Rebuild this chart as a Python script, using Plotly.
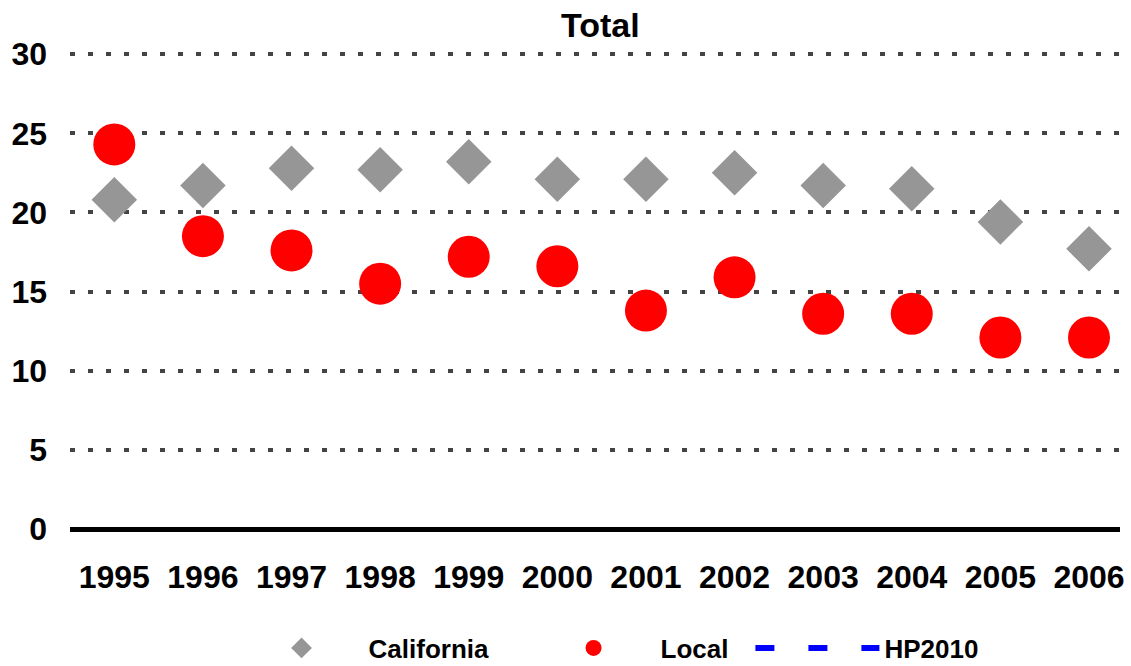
import plotly.graph_objects as go

years = ["1995", "1996", "1997", "1998", "1999", "2000", "2001", "2002", "2003", "2004", "2005", "2006"]
california = [20.8, 21.7, 22.8, 22.7, 23.2, 22.1, 22.1, 22.5, 21.7, 21.5, 19.4, 17.7]
local = [24.3, 18.5, 17.6, 15.5, 17.2, 16.6, 13.8, 15.9, 13.6, 13.6, 12.1, 12.1]
hp2010 = [None] * len(years)
y_ticks = [0, 5, 10, 15, 20, 25, 30]

font_family = "Liberation Sans, Arial, sans-serif"

fig = go.Figure()
fig.add_trace(go.Scatter(
    x=years, y=california, mode="markers", name="California", legend="legend",
    marker=dict(symbol="diamond", size=35, color="#969696", line=dict(width=0)),
))
fig.add_trace(go.Scatter(
    x=years, y=local, mode="markers", name="Local", legend="legend2",
    marker=dict(symbol="circle", size=42, color="#FF0000", line=dict(width=0)),
))
fig.add_trace(go.Scatter(
    x=years, y=hp2010, mode="lines", name="HP2010", legend="legend3",
    line=dict(color="#0000FF", width=6, dash="19px,34px"),
))

legend_font = dict(family=font_family, size=26, color="black", weight="bold")
legend_common = dict(orientation="h", xanchor="left", xref="paper",
                     y=-0.249, yanchor="middle", font=legend_font,
                     itemwidth=124, bgcolor="rgba(0,0,0,0)")

fig.update_layout(
    width=1131, height=666,
    margin=dict(l=70, r=11, t=51, b=137, autoexpand=False),
    paper_bgcolor="white", plot_bgcolor="white",
    title=dict(text="<b>Total</b>", x=0.505, xref="paper", y=0.962, yanchor="middle",
               font=dict(family=font_family, size=34, color="black")),
    font=dict(family=font_family, color="black"),
    showlegend=True,
    legend=dict(x=0.1567, **legend_common),
    legend2=dict(x=0.4348, **legend_common),
    legend3=dict(x=0.648, **legend_common),
)
fig.update_xaxes(
    type="category", range=[-0.5, 11.35], showgrid=False, zeroline=False,
    showline=False, ticks="", ticklabelstandoff=26, automargin=False,
    tickfont=dict(family=font_family, size=32, color="black", weight="bold"),
)
fig.update_yaxes(
    range=[0, 30.2], tickvals=y_ticks, showgrid=True, gridcolor="#444444",
    gridwidth=3.5, griddash="5px,13px", zeroline=True, zerolinecolor="black",
    zerolinewidth=5, showline=False, ticks="", ticklabelstandoff=22, automargin=False,
    tickfont=dict(family=font_family, size=32, color="black", weight="bold"),
)

fig.write_html("out.html", config={"displayModeBar": False},
               post_script="document.body.style.margin='0';")
